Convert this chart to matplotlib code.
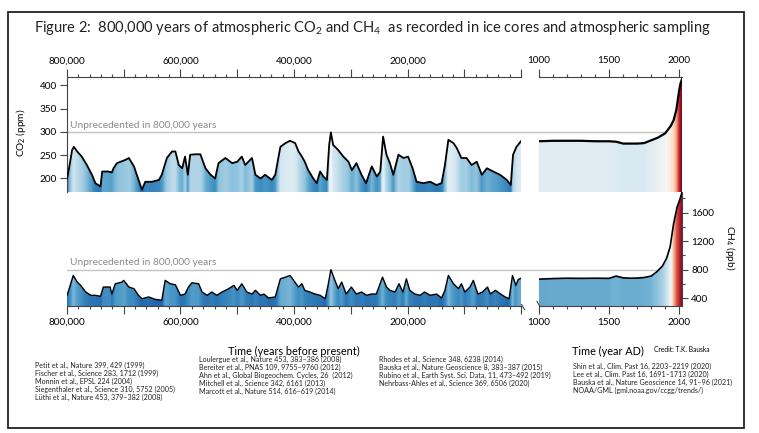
import numpy as np
import matplotlib
matplotlib.use("Agg")
import matplotlib.pyplot as plt
from matplotlib.colors import TwoSlopeNorm
from matplotlib.patches import Polygon, Rectangle
from matplotlib.lines import Line2D
from matplotlib.ticker import MultipleLocator, FuncFormatter, FixedLocator

plt.rcParams['font.family'] = ['Lato', 'DejaVu Sans']
plt.rcParams['mathtext.fontset'] = 'custom'
plt.rcParams['mathtext.rm'] = 'Lato'
plt.rcParams['mathtext.default'] = 'regular'

# CO2, 800 kyr ice core record (years before present, ppm)
co2_age = [800000, 797000, 791000, 788000, 782000, 774000, 765000, 756000, 750000, 741000,
           738000, 727000, 721000, 718000, 712000, 697000, 691000, 682000, 677000, 668000,
           662000, 650000, 638000, 633000, 624000, 615000, 609000, 603000, 597000, 592000,
           587000, 583000, 574000, 565000, 556000, 547000, 539000, 533000, 521000, 509000,
           500000, 492000, 486000, 474000, 468000, 459000, 451000, 439000, 433000, 424000,
           415000, 407000, 398000, 392000, 386000, 381000, 375000, 366000, 360000, 354000,
           348000, 342000, 338000, 335000, 331000, 322000, 313000, 304000, 298000, 290000,
           281000, 273000, 263000, 254000, 248000, 243000, 237000, 231000, 225000, 216000,
           207000, 199000, 191000, 184000, 172000, 160000, 149000, 140000, 134000, 128000,
           119000, 113000, 105000, 96000, 87000, 78000, 69000, 60000, 49000, 37000,
           25000, 18000, 14000, 8000, 0]
co2_ppm = [200, 218, 261, 268, 258, 247, 229, 208, 190, 183,
           215, 215, 213, 222, 233, 240, 244, 226, 208, 176,
           193, 193, 197, 208, 244, 258, 258, 229, 222, 247,
           208, 251, 252, 252, 222, 208, 200, 233, 244, 233,
           236, 247, 229, 244, 208, 200, 208, 197, 208, 268,
           276, 281, 276, 258, 247, 236, 218, 200, 190, 215,
           204, 197, 272, 299, 272, 261, 247, 236, 218, 233,
           208, 190, 226, 204, 215, 290, 251, 233, 208, 251,
           244, 247, 222, 193, 190, 193, 186, 190, 229, 283,
           276, 265, 244, 244, 229, 236, 208, 222, 215, 208,
           197, 186, 251, 268, 280]

# CH4, 800 kyr ice core record (years before present, ppb)
ch4_age = [800000, 797000, 789000, 782000, 776000, 767000, 758000, 750000, 741000, 736000,
           724000, 721000, 715000, 703000, 700000, 691000, 682000, 674000, 668000, 656000,
           645000, 633000, 627000, 618000, 609000, 600000, 592000, 586000, 580000, 568000,
           562000, 553000, 545000, 536000, 527000, 515000, 506000, 500000, 492000, 483000,
           474000, 468000, 459000, 453000, 445000, 433000, 424000, 415000, 407000, 398000,
           392000, 386000, 381000, 372000, 363000, 354000, 345000, 340000, 335000, 328000,
           322000, 316000, 308000, 299000, 290000, 281000, 272000, 264000, 255000, 244000,
           237000, 231000, 222000, 215000, 208000, 202000, 196000, 187000, 178000, 170000,
           160000, 149000, 140000, 134000, 128000, 119000, 110000, 105000, 99000, 90000,
           84000, 76000, 68000, 59000, 54000, 45000, 36000, 28000, 21000, 15000,
           9000, 5000, 0]
ch4_ppb = [440, 510, 719, 626, 580, 486, 440, 440, 426, 556,
           556, 458, 602, 626, 650, 556, 533, 440, 393, 417,
           384, 371, 650, 602, 588, 440, 458, 556, 616, 602,
           486, 440, 486, 440, 486, 533, 580, 510, 602, 486,
           458, 510, 440, 458, 403, 417, 672, 695, 719, 620,
           556, 602, 510, 486, 458, 440, 393, 580, 800, 650,
           533, 626, 458, 556, 458, 486, 440, 458, 458, 695,
           556, 510, 486, 602, 486, 672, 510, 458, 440, 486,
           440, 458, 403, 510, 719, 602, 533, 602, 486, 556,
           650, 458, 486, 556, 458, 510, 458, 417, 393, 719,
           580, 660, 680]

# last millennium (year AD)
co2_year = [1000, 1100, 1200, 1300, 1400, 1500, 1550, 1600, 1650, 1700,
            1750, 1800, 1850, 1900, 1940, 1960, 1980, 2000, 2010, 2020]
co2_ad = [280, 281, 281, 281, 280, 280, 279, 275, 275, 275,
          276, 282, 288, 297, 313, 325, 348, 390, 405, 413]
ch4_year = [1000, 1100, 1200, 1300, 1400, 1500, 1550, 1600, 1650, 1700,
            1750, 1800, 1840, 1880, 1910, 1935, 1960, 1985, 2000, 2010, 2020]
ch4_ad = [667, 675, 680, 678, 680, 678, 710, 685, 680, 682,
          690, 710, 770, 850, 960, 1118, 1444, 1680, 1760, 1820, 1885]

refs_1 = ["Petit et al., Nature 399, 429 (1999)",
          "Fischer et al., Science 283, 1712 (1999)",
          "Monnin et al., EPSL 224 (2004)",
          "Siegenthaler et al., Science 310, 5752 (2005)",
          "Lüthi et al., Nature 453, 379–382 (2008)"]
refs_2 = ["Loulergue et al., Nature 453, 383–386 (2008)",
          "Bereiter et al., PNAS 109, 9755–9760 (2012)",
          "Ahn et al., Global Biogeochem. Cycles, 26  (2012)",
          "Mitchell et al., Science 342, 6161 (2013)",
          "Marcott et al., Nature 514, 616–619 (2014)"]
refs_3 = ["Rhodes et al., Science 348, 6238 (2014)",
          "Bauska et al., Nature Geoscience 8, 383–387 (2015)",
          "Rubino et al., Earth Syst. Sci. Data, 11, 473–492 (2019)",
          "Nehrbass-Ahles et al., Science 369, 6506 (2020)"]
refs_4 = ["Shin et al., Clim. Past 16, 2203–2219 (2020)",
          "Lee et al., Clim. Past 16, 1691–1713 (2020)",
          "Bauska et al., Nature Geoscience 14, 91–96 (2021)",
          "NOAA/GML (gml.noaa.gov/ccgg/trends/)"]

W, H = 759, 433
fig = plt.figure(figsize=(W / 100, H / 100), dpi=100)


def fx(px):
    return px / W


def fy(py):
    return 1 - py / H


def axes_px(x0, y0, x1, y1):
    a = fig.add_axes([fx(x0), fy(y1), (x1 - x0) / W, (y1 - y0) / H])
    a.patch.set_alpha(0)
    for s in a.spines.values():
        s.set_visible(False)
    a.set_xticks([])
    a.set_yticks([])
    return a


def shade(ax, x, y, norm, base, lw):
    x = np.asarray(x, float)
    y = np.asarray(y, float)
    o = np.argsort(x)
    xs, ys = x[o], y[o]
    grid = np.linspace(xs[0], xs[-1], 1500)
    vals = np.interp(grid, xs, ys)
    im = ax.imshow(vals[None, :], extent=(xs[0], xs[-1], base, ys.max()), aspect='auto',
                   cmap='RdBu_r', norm=norm, origin='lower', interpolation='nearest', zorder=1)
    verts = np.column_stack([np.r_[xs, xs[::-1]], np.r_[ys, np.full(len(xs), base)]])
    clip = Polygon(verts, closed=True, facecolor='none', edgecolor='none')
    ax.add_patch(clip)
    im.set_clip_path(clip)
    ax.plot(xs, ys, color='black', lw=lw, zorder=3, solid_joinstyle='round')


co2_norm = TwoSlopeNorm(vmin=140, vcenter=300, vmax=420)
ch4_norm = TwoSlopeNorm(vmin=170, vcenter=1190, vmax=1950)
co2_lim = (171, 418)
ch4_lim = (290, 1890)

ax_co2 = axes_px(67, 77, 521, 192)
ax_co2_ad = axes_px(539, 77, 682, 192)
ax_ch4 = axes_px(67, 192, 521, 306)
ax_ch4_ad = axes_px(539, 192, 682, 306)

shade(ax_co2, co2_age, co2_ppm, co2_norm, co2_lim[0], 1.3)
shade(ax_co2_ad, co2_year, co2_ad, co2_norm, co2_lim[0], 1.6)
shade(ax_ch4, ch4_age, ch4_ppb, ch4_norm, ch4_lim[0], 1.0)
shade(ax_ch4_ad, ch4_year, ch4_ad, ch4_norm, ch4_lim[0], 1.2)

for a in (ax_co2, ax_ch4):
    a.set_xlim(800000, 0)
for a in (ax_co2_ad, ax_ch4_ad):
    a.set_xlim(1000, 2020)
ax_co2.set_ylim(*co2_lim)
ax_co2_ad.set_ylim(*co2_lim)
ax_ch4.set_ylim(*ch4_lim)
ax_ch4_ad.set_ylim(*ch4_lim)

spine_c = '#444444'
bp_fmt = FuncFormatter(lambda v, p: f"{int(round(v)):,}" if round(v) % 200000 == 0 and v > 0 else '')
ad_fmt = FuncFormatter(lambda v, p: f"{int(round(v))}")

for a, side in ((ax_co2, 'top'), (ax_ch4, 'bottom')):
    a.spines[side].set_visible(True)
    a.spines[side].set_color(spine_c)
    a.xaxis.set_ticks_position(side)
    a.xaxis.set_major_locator(MultipleLocator(100000))
    a.xaxis.set_minor_locator(MultipleLocator(20000))
    a.xaxis.set_major_formatter(bp_fmt)
for a, side in ((ax_co2_ad, 'top'), (ax_ch4_ad, 'bottom')):
    a.spines[side].set_visible(True)
    a.spines[side].set_color(spine_c)
    a.xaxis.set_ticks_position(side)
    a.xaxis.set_major_locator(MultipleLocator(500))
    a.xaxis.set_minor_locator(FixedLocator(np.arange(1000, 2001, 100)))
    a.xaxis.set_major_formatter(ad_fmt)

for a in (ax_co2, ax_co2_ad, ax_ch4, ax_ch4_ad):
    a.tick_params(axis='x', which='major', length=5.5, width=0.8, color=spine_c, labelsize=7.2, pad=3)
    a.tick_params(axis='x', which='minor', length=2.2, width=0.8, color=spine_c)

ax_co2.spines['left'].set_visible(True)
ax_co2.spines['left'].set_color(spine_c)
ax_co2.set_yticks([200, 250, 300, 350, 400])
ax_co2.tick_params(axis='y', length=5, width=0.8, color=spine_c, labelsize=7.2, pad=2)

ax_ch4_ad.spines['right'].set_visible(True)
ax_ch4_ad.spines['right'].set_color(spine_c)
ax_ch4_ad.yaxis.set_ticks_position('right')
ax_ch4_ad.set_yticks([400, 800, 1200, 1600])
ax_ch4_ad.yaxis.set_minor_locator(FixedLocator([600, 1000, 1400, 1800]))
ax_ch4_ad.tick_params(axis='y', which='major', length=4.5, width=0.8, color=spine_c, labelsize=7.2, pad=2)
ax_ch4_ad.tick_params(axis='y', which='minor', length=2.2, width=0.8, color=spine_c)

# thresholds, spanning both panels
span = (680 - 67) / (521 - 67)
ax_co2.axhline(300, 0, span, color='#c4c4c4', lw=1.0, clip_on=False, zorder=0.5)
ax_ch4.axhline(800, 0, span, color='#c4c4c4', lw=1.0, clip_on=False, zorder=0.5)
ax_co2.text(795000, 304, "Unprecedented in 800,000 years", color='#8a8a8a', fontsize=7.3, va='bottom')
ax_ch4.text(795000, 840, "Unprecedented in 800,000 years", color='#8a8a8a', fontsize=7.3, va='bottom')

# axis break marks
for (x0, y0, x1, y1) in ((521.5, 304.5, 524.5, 309.5), (537, 301.5, 540, 306.5)):
    fig.add_artist(Line2D([fx(x0), fx(x1)], [fy(y0), fy(y1)], color=spine_c, lw=0.8))

fig.text(fx(21), fy(133), "CO$_2$ (ppm)", rotation=90, ha='center', va='center', fontsize=7.3)
fig.text(fx(730), fy(248), "CH$_4$ (ppb)", rotation=270, ha='center', va='center', fontsize=7.3)

fig.text(fx(372), fy(28), "Figure 2:  800,000 years of atmospheric CO$_2$ and CH$_4$  as recorded in ice cores and atmospheric sampling",
         ha='center', va='center', fontsize=10.5, color='#222222')

fig.text(fx(294), fy(351), "Time (years before present)", ha='center', va='center', fontsize=7.8)
fig.text(fx(572), fy(351), "Time (year AD)", ha='left', va='center', fontsize=7.8)
fig.text(fx(654), fy(349), "Credit: T.K. Bauska", ha='left', va='center', fontsize=4.8)

for refs, x0, y0 in ((refs_1, 35, 365), (refs_2, 199, 359), (refs_3, 379, 359), (refs_4, 573, 366)):
    for i, r in enumerate(refs):
        fig.text(fx(x0), fy(y0 + 8 * i), r, ha='left', va='center', fontsize=5.1, color='#222222')

fig.add_artist(Rectangle((fx(8), fy(428)), (744 - 8) / W, (428 - 12) / H, transform=fig.transFigure,
                         fill=False, lw=1.3, ec='#222222'))

fig.savefig("out.png", dpi=100)
